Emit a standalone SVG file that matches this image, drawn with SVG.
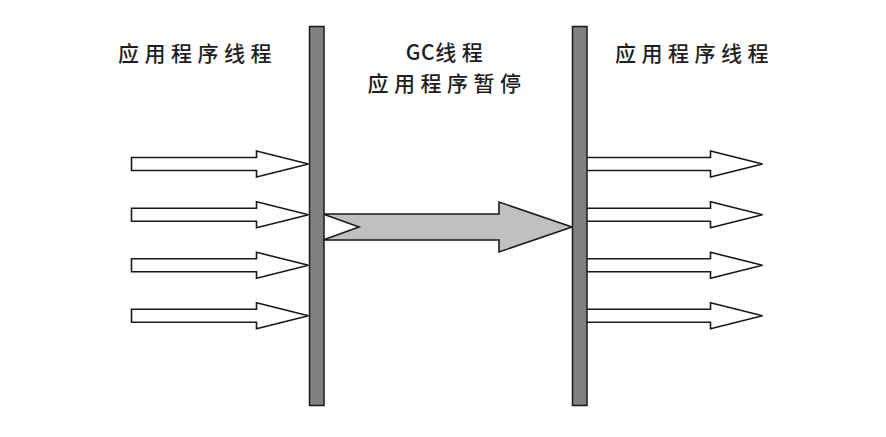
<svg xmlns="http://www.w3.org/2000/svg" width="886" height="437" viewBox="0 0 886 437">
<defs>
<style>
.lbl{font-family:"Noto Sans CJK SC","Liberation Sans",sans-serif;font-size:21px;font-weight:500;fill:#1e1e1e;letter-spacing:5.5px}
.tight{letter-spacing:0.5px}
.bar{fill:#808080;stroke:#1a1a1a;stroke-width:1.5}
.thr{fill:#fff;stroke:#1a1a1a;stroke-width:1.6;stroke-linejoin:miter}
.gc{fill:#c0c0c0;stroke:#1a1a1a;stroke-width:1.6}
</style>
<polygon id="arr" class="thr" points="0,-6.5 125,-6.5 125,-13 177,0 125,13 125,6.5 0,6.5"/>
</defs>
<rect width="886" height="437" fill="#fff"/>
<g id="label-left"><text class="lbl" x="118" y="61">应用程序线程</text></g>
<g id="label-mid">
<text class="lbl" x="447" y="60" text-anchor="middle"><tspan class="tight">GC</tspan>线程</text>
<text class="lbl" x="447" y="91" text-anchor="middle">应用程序暂停</text>
</g>
<g id="label-right"><text class="lbl" x="615" y="61">应用程序线程</text></g>
<g id="connectors">
<use href="#arr" x="131.5" y="164"/>
<use href="#arr" x="131.5" y="214.7"/>
<use href="#arr" x="131.5" y="265.3"/>
<use href="#arr" x="131.5" y="315.8"/>
<use href="#arr" x="585.5" y="164"/>
<use href="#arr" x="585.5" y="214.7"/>
<use href="#arr" x="585.5" y="265.3"/>
<use href="#arr" x="585.5" y="315.8"/>
<polygon id="gc-arrow" class="gc" points="323,214 499,214 499,202 572,227 499,252 499,240 323,240 359,227"/>
</g>
<g id="bar-left"><rect class="bar" x="309.5" y="26.5" width="14.5" height="379"/></g>
<g id="bar-right"><rect class="bar" x="572.5" y="26.5" width="14.5" height="379"/></g>
</svg>
